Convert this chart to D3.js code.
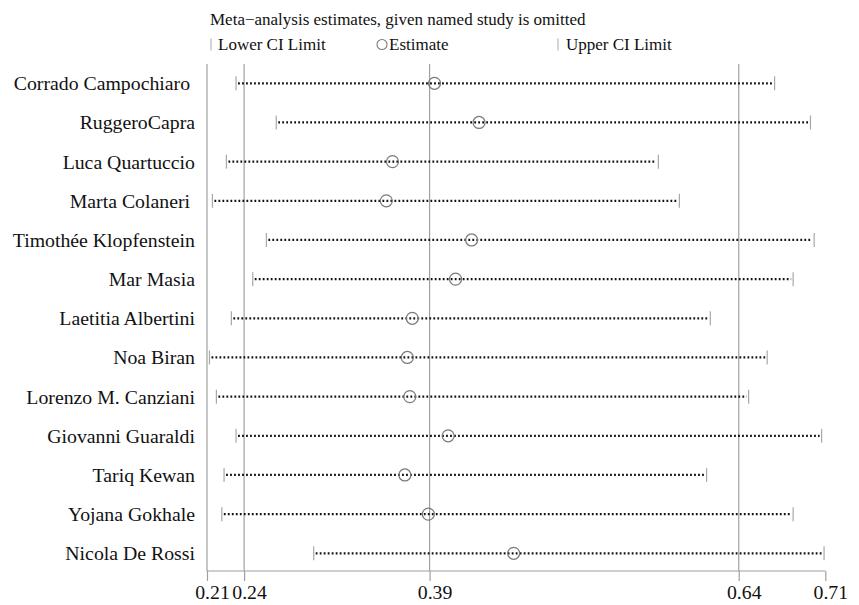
<!DOCTYPE html>
<html><head><meta charset="utf-8">
<script src="https://cdn.jsdelivr.net/npm/d3@7"></script>
<style>body{margin:0;background:#fff}svg{display:block}text{font-family:"Liberation Serif","Times New Roman",serif;fill:#111}</style>
</head><body>
<script>
const studies = ["Corrado Campochiaro ", "RuggeroCapra", "Luca Quartuccio", "Marta Colaneri ", "Timothée Klopfenstein", "Mar Masia", "Laetitia Albertini", "Noa Biran", "Lorenzo M. Canziani", "Giovanni Guaraldi", "Tariq Kewan", "Yojana Gokhale", "Nicola De Rossi"];
const lower = [0.2335, 0.266, 0.2257, 0.2144, 0.258, 0.247, 0.2297, 0.212, 0.2176, 0.2335, 0.2238, 0.222, 0.2963];
const estimate = [0.394, 0.430, 0.360, 0.355, 0.424, 0.411, 0.376, 0.372, 0.374, 0.405, 0.370, 0.389, 0.458];
const upper = [0.669, 0.698, 0.575, 0.592, 0.701, 0.684, 0.617, 0.663, 0.648, 0.707, 0.614, 0.684, 0.709];
const tickValues = [0.21, 0.24, 0.39, 0.64, 0.71];
const gridValues = [0.21, 0.24, 0.39, 0.64];
const title = "Meta\u2212analysis estimates, given named study is omitted";

const W = 859, H = 605;
const svg = d3.select("body").append("svg").attr("width", W).attr("height", H);
const x = d3.scaleLinear().domain([0.21, 0.71]).range([207, 825.3]);
const y = d3.scalePoint().domain(studies).range([83.3, 553.3]);
const axisY = 571;

// grid lines
svg.append("g").selectAll("line").data(gridValues).join("line")
  .attr("x1", d => x(d)).attr("x2", d => x(d))
  .attr("y1", 64).attr("y2", axisY)
  .attr("stroke", "#a0a0a0").attr("stroke-width", 1.2);

// axis
const axis = d3.axisBottom(x).tickValues(tickValues).tickFormat(d3.format(".2f")).tickSize(10).tickPadding(4);
const ag = svg.append("g").attr("transform", `translate(0,${axisY})`).call(axis);
ag.select(".domain").attr("stroke", "#a0a0a0").attr("stroke-width", 1.2).attr("d", `M${x(0.21)},0H${x(0.71)}`);
ag.selectAll(".tick line").attr("stroke", "#a0a0a0").attr("stroke-width", 1.2);
ag.selectAll(".tick text").attr("x", 5).style("font-size", "19.8px").attr("fill", "#111");

// dotted CI lines
const rows = svg.append("g").selectAll("g").data(studies).join("g");
rows.append("line")
  .attr("x1", (d, i) => x(lower[i]) + 2).attr("x2", (d, i) => x(upper[i]) - 2)
  .attr("y1", d => y(d)).attr("y2", d => y(d))
  .attr("stroke", "#111").attr("stroke-width", 2.2).attr("stroke-dasharray", "1.8,2.2");
// CI limit ticks
rows.append("line")
  .attr("x1", (d, i) => x(lower[i])).attr("x2", (d, i) => x(lower[i]))
  .attr("y1", d => y(d) - 7).attr("y2", d => y(d) + 7)
  .attr("stroke", "#a8a8a8").attr("stroke-width", 1.2);
rows.append("line")
  .attr("x1", (d, i) => x(upper[i])).attr("x2", (d, i) => x(upper[i]))
  .attr("y1", d => y(d) - 7).attr("y2", d => y(d) + 7)
  .attr("stroke", "#a8a8a8").attr("stroke-width", 1.2);
// estimates
rows.append("circle")
  .attr("cx", (d, i) => x(estimate[i])).attr("cy", d => y(d)).attr("r", 6)
  .attr("fill", "none").attr("stroke", "#7a7a7a").attr("stroke-width", 1.2);
// labels
rows.append("text")
  .attr("x", 195).attr("y", d => y(d)).attr("dy", "0.35em")
  .attr("text-anchor", "end").style("font-size", "19.8px")
  .style("white-space", "pre").text(d => d);

// title and legend
svg.append("text").attr("x", 210).attr("y", 25).style("font-size", "17px").text(title);
const legY = 44.5;
svg.append("line").attr("x1", 211).attr("x2", 211).attr("y1", legY - 6).attr("y2", legY + 6).attr("stroke", "#a8a8a8");
svg.append("text").attr("x", 218).attr("y", legY).attr("dy", "0.35em").style("font-size", "17px").text("Lower CI Limit");
svg.append("circle").attr("cx", 382).attr("cy", legY).attr("r", 5).attr("fill", "none").attr("stroke", "#7a7a7a").attr("stroke-width", 1.1);
svg.append("text").attr("x", 389).attr("y", legY).attr("dy", "0.35em").style("font-size", "17px").text("Estimate");
svg.append("line").attr("x1", 558).attr("x2", 558).attr("y1", legY - 6).attr("y2", legY + 6).attr("stroke", "#a8a8a8");
svg.append("text").attr("x", 566).attr("y", legY).attr("dy", "0.35em").style("font-size", "17px").text("Upper CI Limit");
</script>
</body></html>
